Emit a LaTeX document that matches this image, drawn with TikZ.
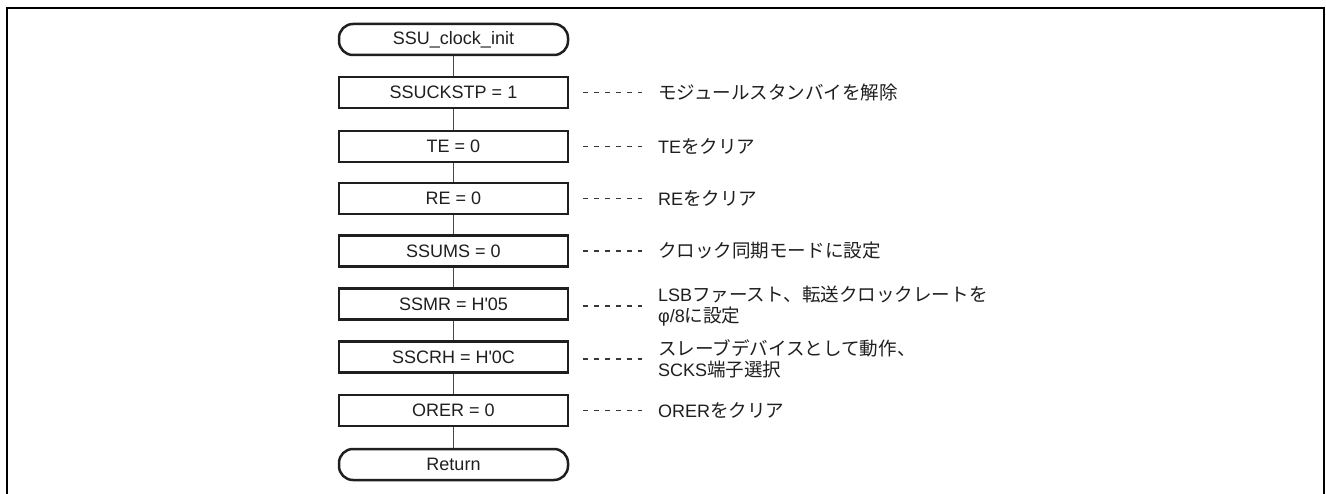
\documentclass[tikz,border=0pt]{standalone}
\usepackage{fontspec}
\setmainfont{Liberation Sans}
\newfontfamily\jp{Noto Sans CJK JP}[Scale=1.03]
\begin{document}
\begin{tikzpicture}[x=1pt,y=-1pt,
 font=\fontsize{18}{21}\selectfont,
 proc/.style={draw=black!88, line width=2.5pt, minimum width=229pt, minimum height=31pt, inner sep=0pt, text=black!88, fill=white},
 term/.style={proc, rounded corners=14pt},
 conn/.style={draw=black!72, line width=1.4pt},
 note/.style={anchor=west, align=left, inner sep=0pt, text=black!88},
 dsh/.style={draw=black!78, line width=1.1pt, dash pattern=on 5pt off 6pt}
]
\useasboundingbox (0,0) rectangle (1326,494);
\fill[white] (0,0) rectangle (1326,494);
\draw[black, line width=2pt] (7,494) -- (7,8) -- (1324,8) -- (1324,494);

\node[term] (s)  at (453.5,39.5) {SSU\_clock\_init};
\node[proc] (b1) at (453.5,92.5) {SSUCKSTP = 1};
\node[proc] (b2) at (453.5,146.5) {TE = 0};
\node[proc] (b3) at (453.5,198.5) {RE = 0};
\node[proc] (b4) at (453.5,251) {SSUMS = 0};
\node[proc] (b5) at (453.5,304) {SSMR = H\textquotesingle 05};
\node[proc] (b6) at (453.5,357) {SSCRH = H\textquotesingle 0C};
\node[proc] (b7) at (453.5,410.5) {ORER = 0};
\node[term] (e)  at (453.5,464.5) {Return};

\draw[conn] (s) -- (b1);
\draw[conn] (b1) -- (b2);
\draw[conn] (b2) -- (b3);
\draw[conn] (b3) -- (b4);
\draw[conn] (b4) -- (b5);
\draw[conn] (b5) -- (b6);
\draw[conn] (b6) -- (b7);
\draw[conn] (b7) -- (e);

\node[note] (n1) at (658,92.5) {{\jp モジュールスタンバイを解除}};
\node[note] (n2) at (658,146.5) {TE{\jp をクリア}};
\node[note] (n3) at (658,198.5) {RE{\jp をクリア}};
\node[note] (n4) at (658,251) {{\jp クロック同期モードに設定}};
\node[note] (n5) at (658,306) {LSB{\jp ファースト、転送クロックレートを}\\φ/8{\jp に設定}};
\node[note] (n6) at (658,359) {{\jp スレーブデバイスとして動作、}\\SCKS{\jp 端子選択}};
\node[note] (n7) at (658,410.5) {ORER{\jp をクリア}};

\draw[dsh] ([xshift=14pt]b1.east) -- ([xshift=-16pt]b1.east -| n1.west);
\draw[dsh] ([xshift=14pt]b2.east) -- ([xshift=-16pt]b2.east -| n2.west);
\draw[dsh] ([xshift=14pt]b3.east) -- ([xshift=-16pt]b3.east -| n3.west);
\draw[dsh] ([xshift=14pt]b4.east) -- ([xshift=-16pt]b4.east -| n4.west);
\draw[dsh] ([xshift=14pt,yshift=-2pt]b5.east) -- ([xshift=-16pt,yshift=-2pt]b5.east -| n5.west);
\draw[dsh] ([xshift=14pt,yshift=-2pt]b6.east) -- ([xshift=-16pt,yshift=-2pt]b6.east -| n6.west);
\draw[dsh] ([xshift=14pt]b7.east) -- ([xshift=-16pt]b7.east -| n7.west);
\end{tikzpicture}
\end{document}
